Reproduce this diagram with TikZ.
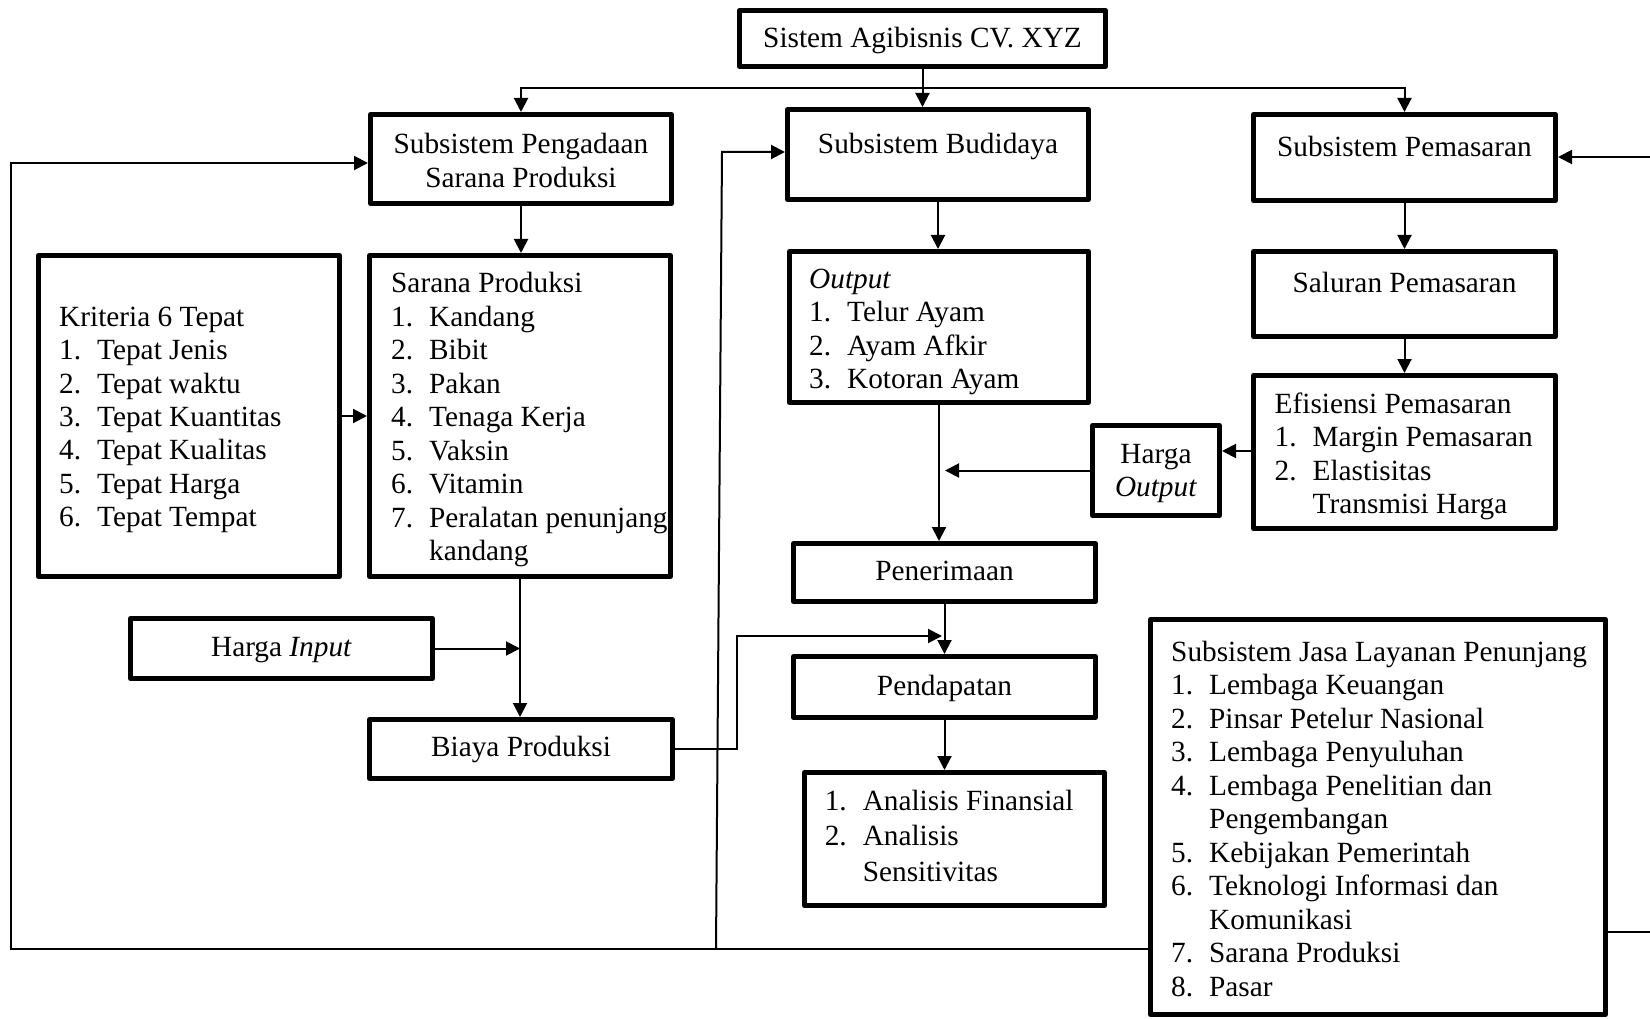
\documentclass[tikz,border=0pt]{standalone}
\usepackage{fontspec}
\setmainfont{Liberation Serif}
\usetikzlibrary{arrows.meta}
\begin{document}
\begin{tikzpicture}[x=1pt,y=-1pt,
  box/.style={draw,line width=5pt,line join=round,inner sep=0pt,rectangle},
  txt/.style={inner sep=0pt,font=\fontsize{29.3}{33.5}\selectfont},
  arr/.style={line width=2pt,-{Triangle[length=14pt,width=14pt]}},
  ln/.style={line width=2pt}]
\useasboundingbox (0,0) rectangle (1650,1019);
% boxes
\node[box,minimum width=366pt,minimum height=56pt] (sis) at (922.5,38.5) {};
\node[box,minimum width=301pt,minimum height=89pt] (pen) at (521,159) {};
\node[box,minimum width=301pt,minimum height=90pt] (bud) at (938,154.5) {};
\node[box,minimum width=302pt,minimum height=86pt] (pem) at (1404.5,157.5) {};
\node[box,minimum width=301pt,minimum height=321pt] (kri) at (189,416) {};
\node[box,minimum width=301pt,minimum height=321pt] (sar) at (520,416) {};
\node[box,minimum width=299pt,minimum height=151pt] (out) at (939,327) {};
\node[box,minimum width=302pt,minimum height=85pt] (sal) at (1404.5,294) {};
\node[box,minimum width=302pt,minimum height=153pt] (efi) at (1404.5,452) {};
\node[box,minimum width=127pt,minimum height=90pt] (hgo) at (1156,470.5) {};
\node[box,minimum width=302pt,minimum height=58pt] (pnr) at (944.5,572.5) {};
\node[box,minimum width=302pt,minimum height=61pt] (pdp) at (944.5,687) {};
\node[box,minimum width=300pt,minimum height=133pt] (ana) at (954.5,839) {};
\node[box,minimum width=302pt,minimum height=60pt] (hgi) at (281.5,648.5) {};
\node[box,minimum width=303pt,minimum height=59pt] (bia) at (521,749) {};
\node[box,minimum width=455pt,minimum height=395pt] (jas) at (1378,817) {};
% texts
\node[txt,anchor=base] (t-sis) at (922.5,48) {Sistem Agibisnis CV. XYZ};
\node[txt,anchor=base] (t-pen) at (521,154) {\begin{tabular}[t]{@{}c@{}}Subsistem Pengadaan\\Sarana Produksi\end{tabular}};
\node[txt,anchor=base] (t-bud) at (938,154) {Subsistem Budidaya};
\node[txt,anchor=base] (t-pem) at (1404.5,157) {Subsistem Pemasaran};
\node[txt,anchor=base west] (t-kri) at (59,326) {\begin{tabular}[t]{@{}p{38pt}@{}l@{}}\multicolumn{2}{@{}l@{}}{Kriteria 6 Tepat}\\
1.&Tepat Jenis\\2.&Tepat waktu\\3.&Tepat Kuantitas\\4.&Tepat Kualitas\\5.&Tepat Harga\\6.&Tepat Tempat\end{tabular}};
\node[txt,anchor=base west] (t-sar) at (391,293) {\begin{tabular}[t]{@{}p{38pt}@{}l@{}}\multicolumn{2}{@{}l@{}}{Sarana Produksi}\\
1.&Kandang\\2.&Bibit\\3.&Pakan\\4.&Tenaga Kerja\\5.&Vaksin\\6.&Vitamin\\7.&Peralatan penunjang\\&kandang\end{tabular}};
\node[txt,anchor=base west] (t-out) at (809,288) {\begin{tabular}[t]{@{}p{38pt}@{}l@{}}\multicolumn{2}{@{}l@{}}{\textit{Output}}\\
1.&Telur Ayam\\2.&Ayam Afkir\\3.&Kotoran Ayam\end{tabular}};
\node[txt,anchor=base] (t-sal) at (1404.5,293) {Saluran Pemasaran};
\node[txt,anchor=base west] (t-efi) at (1274.5,413) {\begin{tabular}[t]{@{}p{38pt}@{}l@{}}\multicolumn{2}{@{}l@{}}{Efisiensi Pemasaran}\\
1.&Margin Pemasaran\\2.&Elastisitas\\&Transmisi Harga\end{tabular}};
\node[txt,anchor=base] (t-hgo) at (1156,463) {\begin{tabular}[t]{@{}c@{}}Harga\\\textit{Output}\end{tabular}};
\node[txt,anchor=base] (t-pnr) at (944.5,580) {Penerimaan};
\node[txt,anchor=base] (t-pdp) at (944.5,695) {Pendapatan};
\node[txt,anchor=base west,font=\fontsize{29.3}{35.5}\selectfont] (t-ana) at (824.6,810) {\begin{tabular}[t]{@{}p{38pt}@{}l@{}}
1.&Analisis Finansial\\2.&Analisis\\&Sensitivitas\end{tabular}};
\node[txt,anchor=base] (t-hgi) at (281.5,656) {Harga \textit{Input}};
\node[txt,anchor=base] (t-bia) at (521,756) {Biaya Produksi};
\node[txt,anchor=base west] (t-jas) at (1171,661) {\begin{tabular}[t]{@{}p{38pt}@{}l@{}}\multicolumn{2}{@{}l@{}}{Subsistem Jasa Layanan Penunjang}\\
1.&Lembaga Keuangan\\2.&Pinsar Petelur Nasional\\3.&Lembaga Penyuluhan\\4.&Lembaga Penelitian dan\\&Pengembangan\\5.&Kebijakan Pemerintah\\6.&Teknologi Informasi dan\\&Komunikasi\\7.&Sarana Produksi\\8.&Pasar\end{tabular}};
% connectors
\coordinate (j) at (922.5,88);
\draw[arr] (sis.south) -- (sis.south |- bud.north);
\draw[arr] (j) -| (pen.north);
\draw[arr] (j) -| (pem.north);
\draw[arr] (pen.south) -- (pen.south |- sar.north);
\draw[arr] (kri.east) -- (sar.west);
\draw[arr] (sar.south) -- (sar.south |- bia.north);
\draw[arr] (hgi.east) -- (hgi.east -| sar.south);
\draw[arr] (bud.south) -- (bud.south |- out.north);
\draw[arr] (out.south) -- (out.south |- pnr.north);
\coordinate (ho) at (945,470.5);
\draw[arr] (hgo.west) -- (ho);
\coordinate (eh) at (1251,451);
\draw[arr] (efi.west |- eh) -- (hgo.east |- eh);
\draw[arr] (pem.south) -- (sal.north);
\draw[arr] (sal.south) -- (efi.north);
\draw[arr] (pnr.south) -- (pnr.south |- pdp.north);
\coordinate (b1) at (737,636);
\coordinate (b2) at (942,636);
\draw[arr] (bia.east) -| (b1) -- (b2);
\draw[arr] (pdp.south) -- (pdp.south |- ana.north);
\coordinate (fb1) at (1148,949);
\coordinate (fb2) at (11,949);
\coordinate (fb3) at (11,163);
\draw[arr] (fb1) -- (fb2) -- (fb3) -- (fb3 -| pen.west);
\coordinate (fc1) at (716,949);
\coordinate (fc2) at (722,152);
\draw[arr] (fc1) -- (fc2) -- (fc2 -| bud.west);
\coordinate (r1) at (1652,932);
\draw[ln] (jas.east |- r1) -- (r1);
\coordinate (r2) at (1652,157);
\draw[arr] (r2) -- (r2 -| pem.east);
\end{tikzpicture}
\end{document}
